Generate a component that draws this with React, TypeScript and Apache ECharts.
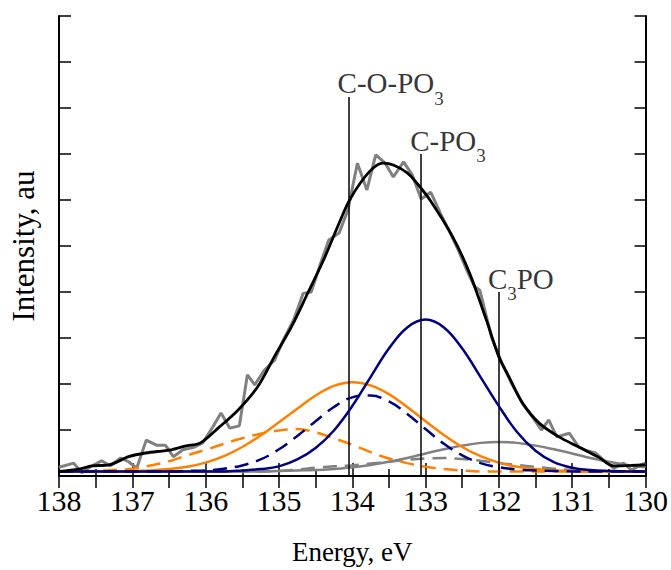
import React, { useEffect, useRef } from "react";
import * as echarts from "echarts";

const FONT = "Liberation Serif";

// Energy grid for the fitted component curves (eV)
const energyGrid = [
  138, 137.75, 137.5, 137.25, 137, 136.75, 136.5, 136.25, 136, 135.75, 135.5,
  135.25, 135, 134.75, 134.5, 134.25, 134, 133.75, 133.5, 133.25, 133, 132.75,
  132.5, 132.25, 132, 131.75, 131.5, 131.25, 131, 130.75, 130.5, 130.25, 130,
];

const orangeSolid = [
  0.1, 0.1, 0.1, 0.1, 0.11, 0.12, 0.15, 0.2, 0.29, 0.43, 0.63, 0.88, 1.17, 1.46,
  1.75, 1.96, 2.04, 1.97, 1.78, 1.5, 1.19, 0.89, 0.63, 0.43, 0.29, 0.2, 0.15,
  0.12, 0.11, 0.1, 0.1, 0.1, 0.1,
];
const orangeDashed = [
  0.1, 0.1, 0.11, 0.13, 0.16, 0.23, 0.32, 0.45, 0.57, 0.7, 0.82, 0.92, 0.99,
  1.02, 0.95, 0.82, 0.68, 0.52, 0.38, 0.28, 0.2, 0.15, 0.12, 0.1, 0.1, 0.1, 0.1,
  0.1, 0.1, 0.1, 0.1, 0.1, 0.1,
];
const blueSolid = [
  0.1, 0.1, 0.1, 0.1, 0.1, 0.1, 0.1, 0.1, 0.1, 0.1, 0.12, 0.15, 0.21, 0.36, 0.61,
  0.99, 1.52, 2.15, 2.77, 3.23, 3.4, 3.23, 2.77, 2.15, 1.52, 0.95, 0.55, 0.3,
  0.18, 0.13, 0.11, 0.1, 0.1,
];
const blueDashed = [
  0.1, 0.1, 0.1, 0.1, 0.1, 0.1, 0.1, 0.11, 0.12, 0.16, 0.23, 0.36, 0.58, 0.87,
  1.19, 1.5, 1.71, 1.75, 1.62, 1.35, 1.02, 0.7, 0.45, 0.28, 0.19, 0.14, 0.12,
  0.11, 0.1, 0.1, 0.1, 0.1, 0.1,
];
const graySolid = [
  0.1, 0.1, 0.1, 0.1, 0.1, 0.1, 0.1, 0.1, 0.1, 0.1, 0.1, 0.1, 0.11, 0.12, 0.13,
  0.15, 0.19, 0.24, 0.31, 0.39, 0.49, 0.58, 0.66, 0.72, 0.74, 0.72, 0.66, 0.58,
  0.49, 0.39, 0.31, 0.24, 0.19,
];
const grayDashed = [
  0.1, 0.1, 0.1, 0.1, 0.1, 0.1, 0.1, 0.1, 0.1, 0.1, 0.1, 0.1, 0.11, 0.14, 0.18,
  0.21, 0.23, 0.27, 0.31, 0.35, 0.38, 0.39, 0.37, 0.33, 0.28, 0.24, 0.2, 0.16,
  0.13, 0.11, 0.1, 0.1, 0.1,
];

// Measured spectrum (noisy)
const rawEnergy = [
  138.0, 137.8, 137.69, 137.57, 137.42, 137.3, 137.16, 137.05, 136.94, 136.81,
  136.67, 136.55, 136.44, 136.31, 136.15, 136.04, 135.9, 135.79, 135.67, 135.54,
  135.43, 135.33, 135.2, 135.06, 134.94, 134.8, 134.67, 134.56, 134.43, 134.32,
  134.18, 134.06, 133.93, 133.8, 133.68, 133.55, 133.44, 133.3, 133.18, 133.06,
  132.93, 132.8, 132.67, 132.55, 132.43, 132.33, 132.26, 132.1, 131.96, 131.83,
  131.68, 131.55, 131.42, 131.32, 131.21, 131.04, 130.91, 130.8, 130.68, 130.54,
  130.43, 130.3, 130.19, 130.07, 130.0,
];
const rawIntensity = [
  0.19, 0.28, 0.07, 0.2, 0.33, 0.22, 0.39, 0.31, 0.17, 0.78, 0.67, 0.67, 0.42,
  0.57, 0.63, 0.72, 1.07, 1.37, 1.04, 1.09, 2.2, 1.98, 2.3, 2.52, 2.96, 3.39,
  3.97, 4.0, 4.63, 5.13, 5.28, 5.78, 6.8, 6.22, 6.98, 6.8, 6.5, 6.83, 6.54, 6.02,
  6.17, 5.72, 5.3, 4.9, 4.45, 4.12, 4.04, 3.02, 2.46, 2.02, 1.59, 1.3, 1.0, 1.22,
  0.85, 0.93, 0.63, 0.55, 0.5, 0.3, 0.17, 0.28, 0.13, 0.24, 0.28,
];

// Envelope (fit)
const fitEnergy = [
  138.0, 137.73, 137.55, 137.32, 137.05, 136.82, 136.47, 136.28, 136.07, 135.83,
  135.56, 135.29, 135.06, 134.83, 134.6, 134.39, 134.16, 134.05, 133.89, 133.71,
  133.58, 133.44, 133.25, 133.12, 132.94, 132.63, 132.4, 132.17, 132.0, 131.86,
  131.68, 131.45, 131.18, 130.91, 130.64, 130.44, 130.2, 130.0,
];
const fitIntensity = [
  0.1, 0.15, 0.22, 0.24, 0.42, 0.5, 0.57, 0.65, 0.72, 1.04, 1.43, 1.94, 2.6,
  3.24, 4.0, 4.7, 5.57, 5.96, 6.37, 6.7, 6.8, 6.76, 6.59, 6.37, 6.0, 5.2, 4.41,
  3.39, 2.59, 2.15, 1.59, 1.15, 0.85, 0.63, 0.41, 0.22, 0.23, 0.24,
];

// Peak assignments
const peakNames = ["C-O-PO3", "C-PO3", "C3PO"];
const peakRich = ["{m|C-O-PO}{s|3}", "{m|C-PO}{s|3}", "{m|C}{s|3}{m|PO}"];
const peakEnergy = [134.05, 133.06, 132.0];
const peakLineTop = [8.24, 7.0, 4.0];

const ORANGE = "#ff8000";
const NAVY = "#000080";
const GRAY = "#808080";

const zip = (xs: number[], ys: number[]) => xs.map((x, i) => [x, ys[i]]);

export default function App() {
  const ref = useRef<HTMLDivElement>(null);

  useEffect(() => {
    if (!ref.current) return;
    const chart = echarts.init(ref.current, null, { renderer: "svg" });

    const comp = (
      name: string,
      ys: number[],
      color: string,
      dashed: boolean,
      z: number
    ) => ({
      name,
      type: "line",
      data: zip(energyGrid, ys),
      showSymbol: false,
      smooth: 0.4,
      z,
      lineStyle: {
        color,
        width: 2.5,
        type: dashed ? [14, 8] : "solid",
      },
    });

    const option: any = {
      animation: false,
      backgroundColor: "#ffffff",
      textStyle: { fontFamily: FONT },
      grid: { left: 56, right: 24, top: 16, bottom: 94, containLabel: false },
      xAxis: [
        {
          type: "value",
          min: 130,
          max: 138,
          interval: 1,
          inverse: true,
          position: "bottom",
          name: "Energy, eV",
          nameLocation: "middle",
          nameGap: 62,
          nameTextStyle: { fontFamily: FONT, fontSize: 27, color: "#000" },
          axisLine: { show: true, lineStyle: { color: "#000", width: 2 } },
          axisTick: {
            show: true,
            inside: true,
            length: 13,
            lineStyle: { color: "#000", width: 1.5 },
          },
          minorTick: {
            show: true,
            splitNumber: 2,
            length: 7,
            lineStyle: { color: "#000", width: 1.5 },
          },
          axisLabel: {
            show: true,
            margin: 9,
            fontFamily: FONT,
            fontSize: 30,
            color: "#000",
          },
          splitLine: { show: false },
        },
        {
          type: "value",
          min: 130,
          max: 138,
          interval: 0.5,
          inverse: true,
          position: "top",
          axisLine: { show: true, lineStyle: { color: "#000", width: 2 } },
          axisTick: {
            show: true,
            inside: true,
            length: 12,
            lineStyle: { color: "#000", width: 1.5 },
          },
          axisLabel: { show: false },
          splitLine: { show: false },
        },
      ],
      yAxis: [
        {
          type: "value",
          min: 0,
          max: 10,
          interval: 1,
          position: "left",
          name: "Intensity, au",
          nameLocation: "middle",
          nameGap: 20,
          nameTextStyle: { fontFamily: FONT, fontSize: 31, color: "#000" },
          axisLine: { show: true, lineStyle: { color: "#000", width: 2 } },
          axisTick: {
            show: true,
            inside: true,
            length: 12,
            lineStyle: { color: "#000", width: 1.5 },
          },
          axisLabel: { show: false },
          splitLine: { show: false },
        },
        {
          type: "value",
          min: 0,
          max: 10,
          interval: 1,
          position: "right",
          axisLine: { show: true, lineStyle: { color: "#000", width: 2 } },
          axisTick: {
            show: true,
            inside: true,
            length: 11,
            lineStyle: { color: "#000", width: 1.5 },
          },
          axisLabel: { show: false },
          splitLine: { show: false },
        },
      ],
      series: [
        {
          name: "Measured",
          type: "line",
          data: zip(rawEnergy, rawIntensity),
          showSymbol: false,
          z: 2,
          lineStyle: { color: GRAY, width: 3 },
        },
        comp("C3PO 2p1/2", grayDashed, GRAY, true, 3),
        comp("C3PO 2p3/2", graySolid, GRAY, false, 3),
        comp("C-O-PO3 2p1/2", orangeDashed, ORANGE, true, 4),
        comp("C-O-PO3 2p3/2", orangeSolid, ORANGE, false, 4),
        comp("C-PO3 2p1/2", blueDashed, NAVY, true, 5),
        comp("C-PO3 2p3/2", blueSolid, NAVY, false, 5),
        {
          name: "Fit",
          type: "line",
          data: zip(fitEnergy, fitIntensity),
          showSymbol: false,
          smooth: 0.3,
          z: 6,
          lineStyle: { color: "#000", width: 2.8 },
          markLine: {
            silent: true,
            symbol: ["none", "none"],
            label: { show: false },
            lineStyle: { color: "#000", width: 1.5, type: "solid" },
            data: peakEnergy.map((e, i) => [
              { coord: [e, 0] },
              { coord: [e, peakLineTop[i]] },
            ]),
          },
        },
        {
          name: "Peaks",
          type: "scatter",
          symbolSize: 0,
          z: 7,
          data: peakEnergy.map((e, i) => ({
            name: peakNames[i],
            value: [e, peakLineTop[i]],
          })),
          label: {
            show: true,
            position: "inside",
            align: "left",
            verticalAlign: "bottom",
            offset: [-11, 1],
            formatter: (p: any) => peakRich[p.dataIndex],
            fontFamily: FONT,
            fontSize: 29,
            color: "#000",
            rich: {
              m: {
                fontFamily: FONT,
                fontSize: 29,
                color: "#000",
                verticalAlign: "top",
                lineHeight: 29,
              },
              s: {
                fontFamily: FONT,
                fontSize: 19,
                color: "#000",
                verticalAlign: "top",
                lineHeight: 19,
                padding: [20, 0, 0, 0],
              },
            },
          },
        },
      ],
    };

    chart.setOption(option);
    return () => chart.dispose();
  }, []);

  return (
    <div
      ref={ref}
      style={{
        position: "absolute",
        left: 0,
        top: 0,
        width: 671,
        height: 570,
        background: "#fff",
      }}
    />
  );
}
